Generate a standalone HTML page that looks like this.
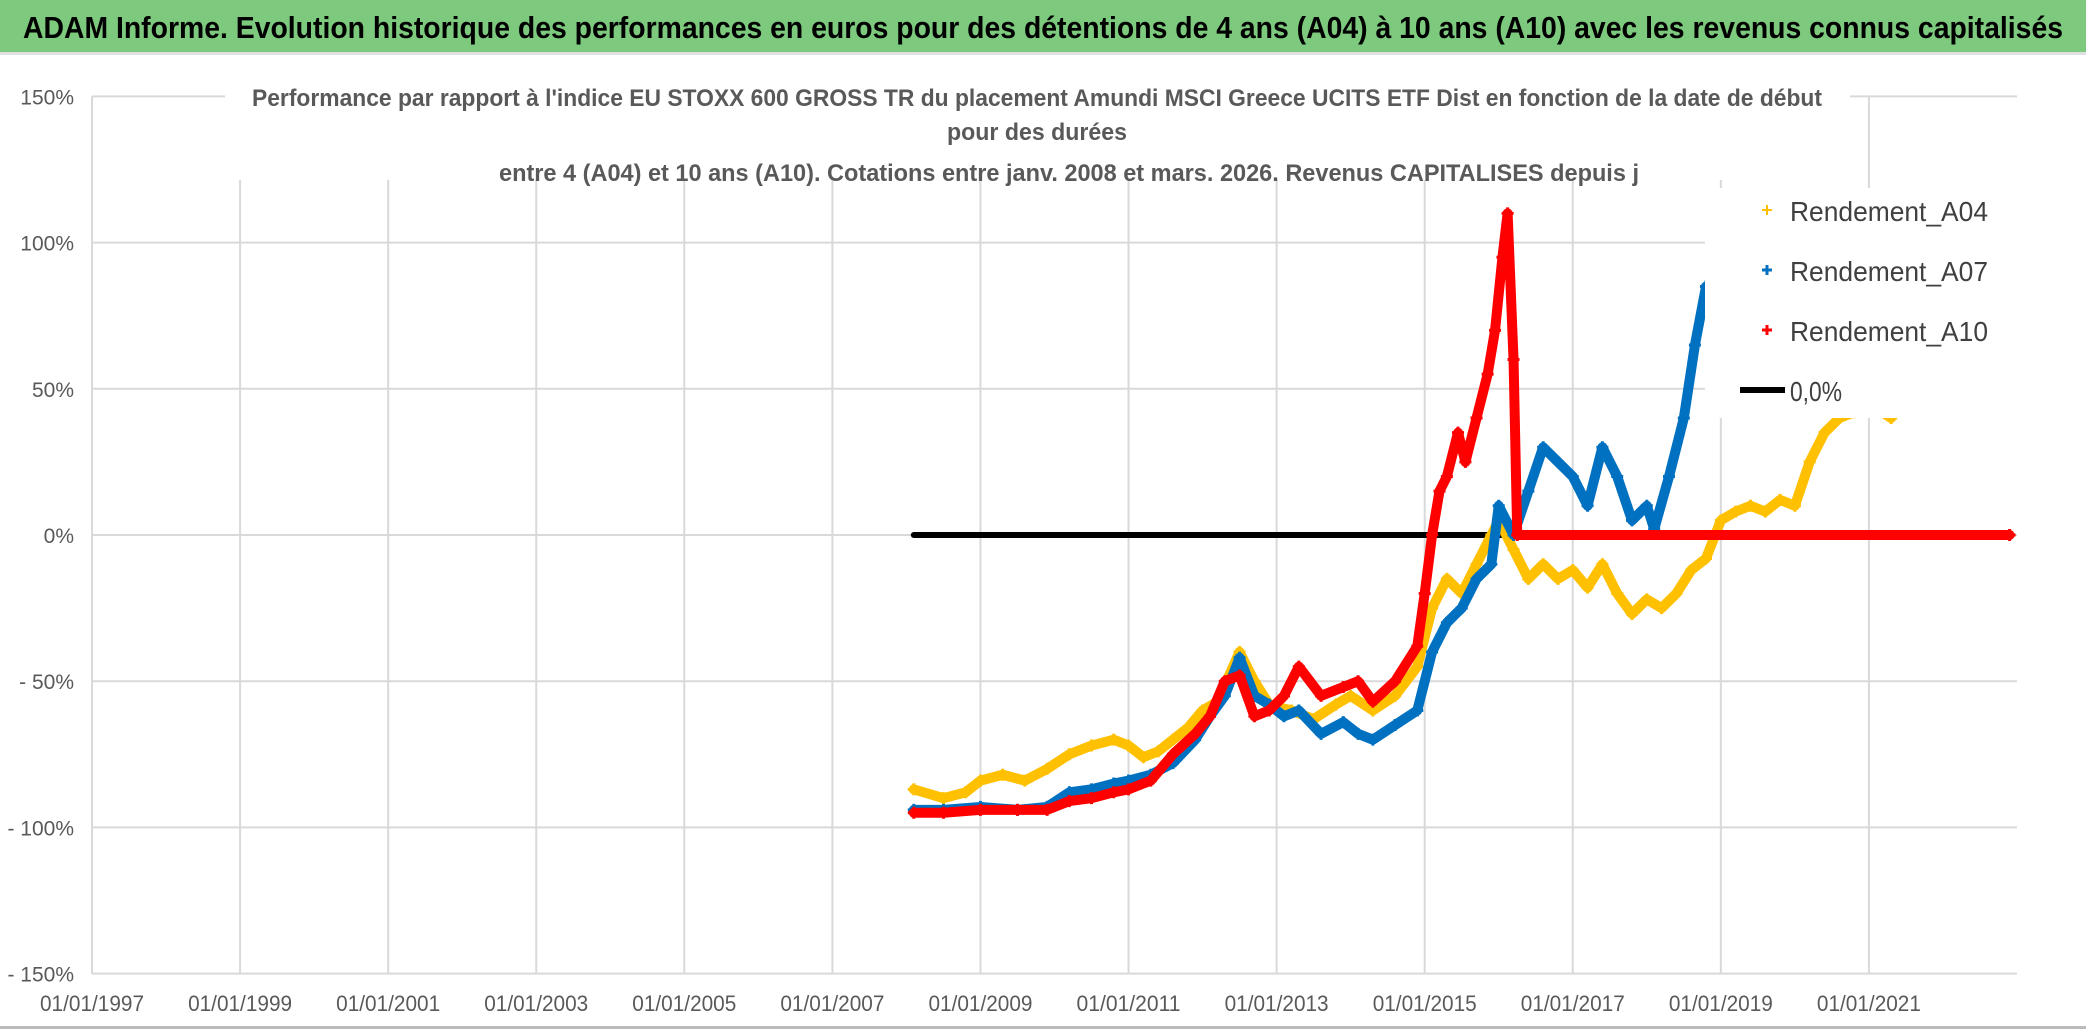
<!DOCTYPE html>
<html><head><meta charset="utf-8"><style>
body{margin:0;background:#fff;}
svg{display:block;font-family:"Liberation Sans Narrow","Liberation Sans",sans-serif;}
</style></head><body>
<svg id="chart" width="2086" height="1031" viewBox="0 0 2086 1031">
<rect x="0" y="0" width="2086" height="1031" fill="#fff"/>
<rect x="0" y="0" width="2086" height="52" fill="#7dc97e"/>
<rect x="0" y="52" width="2086" height="3" fill="#e0e0e0"/>
<text x="1043" y="38" text-anchor="middle" font-size="31" font-weight="bold" fill="#000" textLength="2040" lengthAdjust="spacingAndGlyphs">ADAM Informe. Evolution historique des performances en euros pour des détentions de 4 ans (A04) à 10 ans (A10) avec les revenus connus capitalisés</text>
<g id="grid"></g>
<g id="yaxis"></g>
<g id="xaxis"></g>
<g id="series"></g>
<g fill="#595959" font-size="24" font-weight="bold" text-anchor="middle">
<rect x="225" y="80" width="1625" height="100" fill="#fff"/>
<text x="1037" y="106" textLength="1570" lengthAdjust="spacingAndGlyphs">Performance par rapport à l'indice EU STOXX 600 GROSS TR  du placement Amundi MSCI Greece UCITS ETF Dist en fonction de la date de début</text>
<text x="1037" y="140" textLength="180" lengthAdjust="spacingAndGlyphs">pour des durées</text>
<text x="1069" y="181" textLength="1140" lengthAdjust="spacingAndGlyphs">entre 4 (A04) et 10 ans (A10). Cotations entre janv. 2008 et mars. 2026. Revenus CAPITALISES depuis j</text>
</g>
<g>
<rect x="1705" y="188" width="318" height="230" fill="#fff"/>
<g><path d="M1762 210h10M1767 205v10" stroke="#ffc000" stroke-width="2"/><text x="1790" y="221" font-size="28" fill="#404040" textLength="198" lengthAdjust="spacingAndGlyphs">Rendement_A04</text></g>
<g><path d="M1762 270h10M1767 265v10" stroke="#0070c0" stroke-width="3"/><text x="1790" y="281" font-size="28" fill="#404040" textLength="198" lengthAdjust="spacingAndGlyphs">Rendement_A07</text></g>
<g><path d="M1762 330h10M1767 325v10" stroke="#ff0000" stroke-width="3"/><text x="1790" y="341" font-size="28" fill="#404040" textLength="198" lengthAdjust="spacingAndGlyphs">Rendement_A10</text></g>
<g><path d="M1740 390h45" stroke="#000" stroke-width="6"/><text x="1790" y="401" font-size="28" fill="#404040" textLength="52" lengthAdjust="spacingAndGlyphs">0,0%</text></g>
</g>
<rect x="0" y="1026" width="2086" height="3" fill="#bbb"/>
</svg>
<script>
const yTicks=[150,100,50,0,-50,-100,-150];
const yTickLabels=["150%","100%","50%","0%","- 50%","- 100%","- 150%"];
const xTicks=[1997,1999,2001,2003,2005,2007,2009,2011,2013,2015,2017,2019,2021];
const xTickLabels=["01/01/1997","01/01/1999","01/01/2001","01/01/2003","01/01/2005","01/01/2007","01/01/2009","01/01/2011","01/01/2013","01/01/2015","01/01/2017","01/01/2019","01/01/2021"];
const xMin=1997,xMax=2023;
const datesA04=[2008.1,2008.5,2008.8,2009.0,2009.3,2009.6,2009.9,2010.2,2010.5,2010.8,2011.0,2011.2,2011.4,2011.6,2011.8,2012.0,2012.2,2012.5,2012.7,2012.9,2013.2,2013.5,2013.8,2014.0,2014.3,2014.6,2014.9,2015.1,2015.3,2015.5,2015.7,2015.9,2016.0,2016.2,2016.4,2016.6,2016.8,2017.0,2017.2,2017.4,2017.6,2017.8,2018.0,2018.2,2018.4,2018.6,2018.8,2019.0,2019.2,2019.4,2019.6,2019.8,2020.0,2020.2,2020.4,2020.6,2020.8,2021.0,2021.3];
const valsA04=[-87,-90,-88,-84,-82,-84,-80,-75,-72,-70,-72,-76,-74,-70,-66,-60,-57,-40,-50,-58,-60,-63,-58,-55,-60,-55,-45,-25,-15,-20,-10,0,5,-5,-15,-10,-15,-12,-18,-10,-20,-27,-22,-25,-20,-12,-8,5,8,10,8,12,10,25,35,40,42,45,40];
const datesA04Tail=[2022.2,2022.9];
const valsA04Tail=[0,0];
const datesA07=[2008.1,2008.5,2009.0,2009.5,2009.9,2010.2,2010.5,2010.8,2011.0,2011.3,2011.6,2011.9,2012.1,2012.3,2012.5,2012.7,2012.9,2013.1,2013.3,2013.6,2013.9,2014.1,2014.3,2014.6,2014.9,2015.1,2015.3,2015.5,2015.7,2015.9,2016.0,2016.2,2016.4,2016.6,2016.8,2017.0,2017.2,2017.4,2017.6,2017.8,2018.0,2018.1,2018.3,2018.5,2018.65,2018.8];
const valsA07=[-94,-94,-93,-94,-93,-88,-87,-85,-84,-82,-78,-70,-62,-55,-42,-55,-58,-62,-60,-68,-64,-68,-70,-65,-60,-40,-30,-25,-15,-10,10,0,15,30,25,20,10,30,20,5,10,2,20,40,65,85];
const datesA10=[2008.1,2008.5,2009.0,2009.5,2009.9,2010.2,2010.5,2010.8,2011.0,2011.3,2011.6,2011.9,2012.1,2012.3,2012.5,2012.7,2012.9,2013.1,2013.3,2013.6,2013.9,2014.1,2014.3,2014.6,2014.9,2015.0,2015.1,2015.2,2015.3,2015.45,2015.55,2015.7,2015.85,2015.95,2016.05,2016.12,2016.2,2016.25,2022.9];
const valsA10=[-95,-95,-94,-94,-94,-91,-90,-88,-87,-84,-75,-68,-62,-50,-48,-62,-60,-55,-45,-55,-52,-50,-57,-50,-38,-20,0,15,20,35,25,40,55,70,95,110,60,0,0];
const zeroDates=[2008.1,2022.9];
const zeroVals=[0,0];
const X=d=>92+(d-xMin)*(2017-92)/(xMax-xMin);
const Y=v=>535-v*2.924;
const NS="http://www.w3.org/2000/svg";
function mk(tag,attrs,parent){const e=document.createElementNS(NS,tag);for(const k in attrs)e.setAttribute(k,attrs[k]);parent.appendChild(e);return e;}
const grid=document.getElementById('grid'),yax=document.getElementById('yaxis'),xax=document.getElementById('xaxis'),ser=document.getElementById('series');
yTicks.forEach((t,i)=>{
 const l=mk('line',{x1:92,x2:2017,y1:Y(t),y2:Y(t),stroke:'#d9d9d9','stroke-width':2},grid);
 
 
 const tx=mk('text',{x:74,y:Y(t)+8,'text-anchor':'end','font-size':21,fill:'#595959'},yax);
 tx.textContent=yTickLabels[i];
 
 
});
xTicks.forEach((t,i)=>{
 const l=mk('line',{x1:X(t),x2:X(t),y1:Y(150),y2:Y(-150),stroke:'#d9d9d9','stroke-width':2},grid);
 
 
 const tx=mk('text',{x:X(t),y:1011,'text-anchor':'middle','font-size':22,fill:'#595959',textLength:104,lengthAdjust:'spacingAndGlyphs'},xax);
 tx.textContent=xTickLabels[i];
 
 
});
function line(dates,vals,color,w,name){
 const p=mk('polyline',{points:dates.map((d,i)=>X(d)+','+Y(vals[i])).join(' '),fill:'none',stroke:color,'stroke-width':w,'stroke-linejoin':'round','stroke-linecap':'round'},ser);
 
 
}
function marks(dates,vals,color,name){
 const g=mk('g',{},ser);
 
 
 dates.forEach((d,i)=>{const x=X(d),y=Y(vals[i]);
  const m=mk('path',{d:`M${x-6} ${y}h12M${x} ${y-6}v12`,stroke:color,'stroke-width':3},g);
  
  });
}
line(zeroDates,zeroVals,'#000',6,'zero-line');
line(datesA04,valsA04,'#ffc000',10,'series-a04');
marks(datesA04,valsA04,'#ffc000','markers-a04');
line(datesA04Tail,valsA04Tail,'#ffc000',10,'series-a04-tail');
line(datesA07,valsA07,'#0070c0',10,'series-a07');
marks(datesA07,valsA07,'#0070c0','markers-a07');
line(datesA10,valsA10,'#ff0000',10,'series-a10');
marks(datesA10,valsA10,'#ff0000','markers-a10');
</script>
</body></html>
